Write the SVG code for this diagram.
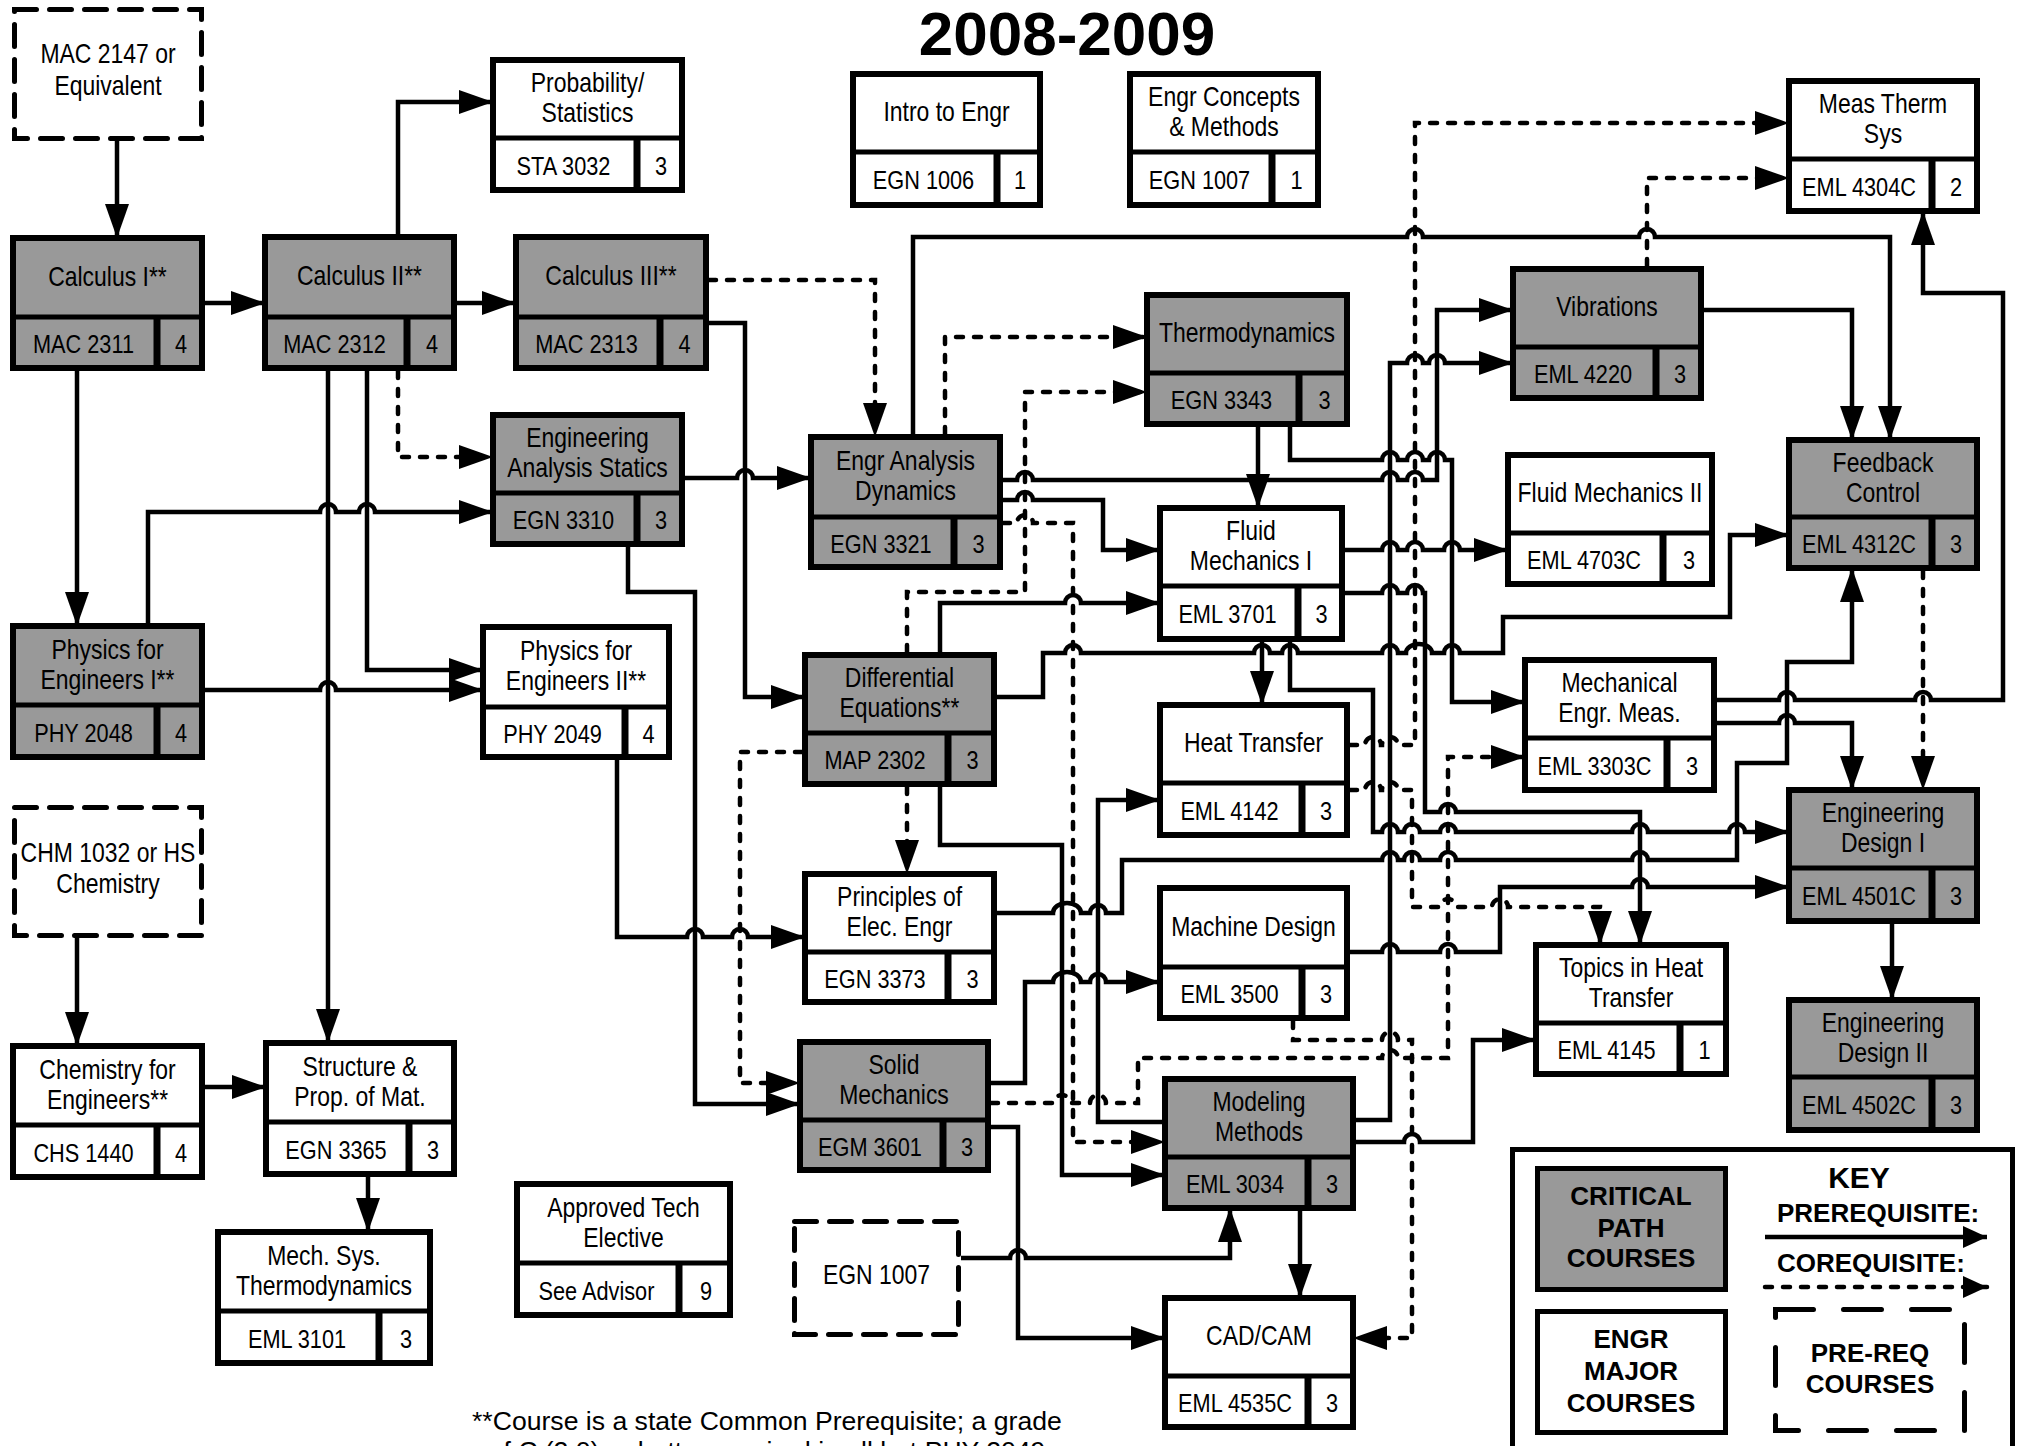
<svg xmlns="http://www.w3.org/2000/svg" width="2017" height="1446" viewBox="0 0 2017 1446">
<style>
.box{stroke:#000;stroke-width:6}
.g{fill:#999}
.w{fill:#fff}
.dv{stroke:#000;stroke-width:5}
.vd{stroke:#000;stroke-width:7}
.pre{fill:#fff;stroke:#000;stroke-width:5;stroke-dasharray:22 13;stroke-linecap:round}
text{font-family:"Liberation Sans",Arial,sans-serif;text-anchor:middle;fill:#000}
.t,.c{transform:scaleX(0.82);transform-box:fill-box;transform-origin:center}
.t{font-size:28px}
.c{font-size:26.5px}
.k{font-family:"Liberation Sans",Arial,sans-serif;font-weight:bold;font-size:26px}
.cn path{fill:none;stroke:#000;stroke-width:4.5}
.cn path.d{stroke-dasharray:7 11;stroke-linecap:round}
.cn path{marker-end:url(#ah)}
</style>
<defs>
<marker id="ah" viewBox="0 0 34 24" refX="31" refY="12" markerWidth="34" markerHeight="24" markerUnits="userSpaceOnUse" orient="auto"><path d="M0 0L34 12L0 24Z" fill="#000"/></marker>
<marker id="ahs" viewBox="0 0 24 22" refX="24" refY="11" markerWidth="24" markerHeight="22" markerUnits="userSpaceOnUse" orient="auto"><path d="M0 0L24 11L0 22Z" fill="#000"/></marker>
</defs>
<rect x="0" y="0" width="2017" height="1446" fill="#fff"/>
<text x="1067" y="55" style="font-family:'Liberation Sans',Arial,sans-serif;font-weight:bold;font-size:62px">2008-2009</text>

<g id="connectors" class="cn">
<path d="M117 141V235"/>
<path d="M205 303H262"/>
<path d="M457 303H513"/>
<path d="M398 234V102H490"/>
<path d="M77 371V623"/>
<path d="M328 371V1040"/>
<path d="M367 371V670H480"/>
<path class="d" d="M398 371V457H490"/>
<path d="M148 623V512H320a8 8 0 0 1 16 0H359a8 8 0 0 1 16 0H490"/>
<path d="M205 690H320a8 8 0 0 1 16 0H480"/>
<path d="M77 938V1043"/>
<path d="M205 1087H263"/>
<path d="M368 1177V1229"/>
<path class="d" d="M709 280H875V434"/>
<path d="M709 323H745V697H802"/>
<path d="M685 478H737a8 8 0 0 1 16 0H808"/>
<path d="M628 547V592H695V1104H797"/>
<path d="M617 760V937H687a8 8 0 0 1 16 0H732a8 8 0 0 1 16 0H802"/>
<path class="d" d="M802 752H740V1083H797"/>
<path class="d" d="M907 787V871"/>
<path class="d" d="M907 652V592H1025V392H1144"/>
<path class="d" d="M1003 523H1017a8 8 0 0 1 16 0H1073V1142H1162"/>
<path d="M940 652V603H1065a8 8 0 0 1 16 0H1157"/>
<path d="M997 697H1043V653H1065a8 8 0 0 1 16 0H1254a8 8 0 0 1 16 0H1282a8 8 0 0 1 16 0H1382a8 8 0 0 1 16 0H1406a13 9 0 0 1 26 0H1444a8 8 0 0 1 16 0H1503V617H1730V535H1786"/>
<path d="M1003 500H1017a8 8 0 0 1 16 0H1103V550H1157"/>
<path d="M1003 480H1017a8 8 0 0 1 16 0H1382a8 8 0 0 1 16 0H1407a8 8 0 0 1 16 0H1437V310H1510"/>
<path d="M1258 427V505"/>
<path d="M1290 427V460H1382a8 8 0 0 1 16 0H1407a8 8 0 0 1 16 0H1429a8 8 0 0 1 16 0H1452V702H1522"/>
<path d="M913 434V237H1407a8 8 0 0 1 16 0H1639a8 8 0 0 1 16 0H1890V437"/>
<path class="d" d="M945 434V337H1144"/>
<path d="M1704 310H1852V437"/>
<path class="d" d="M1647 266V178H1786"/>
<path class="d" d="M1350 745H1365a8 8 0 0 1 16 0H1382a8 8 0 0 1 16 0H1415V123H1786"/>
<path d="M1717 700H1779a8 8 0 0 1 16 0H1915a8 8 0 0 1 16 0H2003V293H1923V214"/>
<path d="M1717 723H1779a8 8 0 0 1 16 0H1852V787"/>
<path class="d" d="M1923 571V787"/>
<path d="M1892 924V997"/>
<path d="M1345 550H1382a8 8 0 0 1 16 0H1407a8 8 0 0 1 16 0H1444a8 8 0 0 1 16 0H1505"/>
<path d="M1345 593H1382a8 8 0 0 1 16 0H1407a8 8 0 0 1 16 0H1425V812H1440a8 8 0 0 1 16 0H1640V942"/>
<path d="M1262 642V702"/>
<path d="M1290 642V690H1373V832H1382a8 8 0 0 1 16 0H1404a8 8 0 0 1 16 0H1440a8 8 0 0 1 16 0H1632a8 8 0 0 1 16 0H1729a8 8 0 0 1 16 0H1786"/>
<path d="M1162 1122H1098V800H1157"/>
<path d="M1356 1120H1390V363H1407a8 8 0 0 1 16 0H1429a8 8 0 0 1 16 0H1510"/>
<path d="M1356 1142H1404a8 8 0 0 1 16 0H1473V1040H1533"/>
<path d="M1300 1211V1295"/>
<path d="M991 1127H1018V1338H1162"/>
<path d="M961 1258H1010a8 8 0 0 1 16 0H1230V1211"/>
<path d="M991 1083H1025V982H1053a14 10 0 0 1 28 0H1090a8 8 0 0 1 16 0H1157"/>
<path class="d" d="M991 1103H1054a8 8 0 0 1 16 0H1090a8 8 0 0 1 16 0H1138V1058H1382a8 8 0 0 1 16 0H1448V757H1522"/>
<path d="M997 913H1053a14 10 0 0 1 28 0H1090a8 8 0 0 1 16 0H1122V860H1382a8 8 0 0 1 16 0H1404a8 8 0 0 1 16 0H1440a8 8 0 0 1 16 0H1632a8 8 0 0 1 16 0H1737V763H1787V662H1852V571"/>
<path class="d" d="M1293 1021V1040H1382a8 8 0 0 1 16 0H1412V1338H1356"/>
<path class="d" d="M1350 790H1365a8 8 0 0 1 16 0H1382a8 8 0 0 1 16 0H1412V907H1440a8 8 0 0 1 16 0H1492a8 8 0 0 1 16 0H1600V942"/>
<path d="M1350 952H1382a8 8 0 0 1 16 0H1440a8 8 0 0 1 16 0H1500V887H1632a8 8 0 0 1 16 0H1786"/>
<path d="M940 787V845H1062V1175H1162"/>
</g>

<g id="mac2147"><rect class="pre" x="14.5" y="9.5" width="187" height="129"/><text class="t" x="108" y="63">MAC 2147 or</text><text class="t" x="108" y="95">Equivalent</text></g>
<g id="calc1"><rect class="box g" x="13" y="238" width="189" height="130"/><line class="dv" x1="10" y1="317" x2="205" y2="317"/><line class="vd" x1="157" y1="317" x2="157" y2="371"/><text class="t" x="107.5" y="286">Calculus I**</text><text class="c" x="83.5" y="353.5">MAC 2311</text><text class="c" x="181" y="353.5">4</text></g>
<g id="calc2"><rect class="box g" x="265" y="237" width="189" height="131"/><line class="dv" x1="262" y1="317" x2="457" y2="317"/><line class="vd" x1="407" y1="317" x2="407" y2="371"/><text class="t" x="359.5" y="285.5">Calculus II**</text><text class="c" x="334.5" y="353.5">MAC 2312</text><text class="c" x="432" y="353.5">4</text></g>
<g id="calc3"><rect class="box g" x="516" y="237" width="190" height="131"/><line class="dv" x1="513" y1="317" x2="709" y2="317"/><line class="vd" x1="660" y1="317" x2="660" y2="371"/><text class="t" x="611" y="285.5">Calculus III**</text><text class="c" x="586.5" y="353.5">MAC 2313</text><text class="c" x="684.5" y="353.5">4</text></g>
<g id="prob"><rect class="box w" x="493" y="60" width="189" height="130"/><line class="dv" x1="490" y1="138" x2="685" y2="138"/><line class="vd" x1="637" y1="138" x2="637" y2="193"/><text class="t" x="587.5" y="92.5">Probability/</text><text class="t" x="587.5" y="122.5">Statistics</text><text class="c" x="563.5" y="175">STA 3032</text><text class="c" x="661" y="175">3</text></g>
<g id="intro"><rect class="box w" x="853" y="74" width="187" height="131"/><line class="dv" x1="850" y1="152" x2="1043" y2="152"/><line class="vd" x1="997" y1="152" x2="997" y2="208"/><text class="t" x="946.5" y="121.5">Intro to Engr</text><text class="c" x="923.5" y="189.5">EGN 1006</text><text class="c" x="1020" y="189.5">1</text></g>
<g id="concepts"><rect class="box w" x="1130" y="74" width="188" height="131"/><line class="dv" x1="1127" y1="152" x2="1321" y2="152"/><line class="vd" x1="1272" y1="152" x2="1272" y2="208"/><text class="t" x="1224" y="106.5">Engr Concepts</text><text class="t" x="1224" y="136.5">&amp; Methods</text><text class="c" x="1199.5" y="189.5">EGN 1007</text><text class="c" x="1296.5" y="189.5">1</text></g>
<g id="meas"><rect class="box w" x="1789" y="81" width="188" height="130"/><line class="dv" x1="1786" y1="159" x2="1980" y2="159"/><line class="vd" x1="1932" y1="159" x2="1932" y2="214"/><text class="t" x="1883" y="113.5">Meas Therm</text><text class="t" x="1883" y="143.5">Sys</text><text class="c" x="1859" y="196">EML 4304C</text><text class="c" x="1956" y="196">2</text></g>
<g id="vib"><rect class="box g" x="1513" y="269" width="188" height="129"/><line class="dv" x1="1510" y1="347" x2="1704" y2="347"/><line class="vd" x1="1656" y1="347" x2="1656" y2="401"/><text class="t" x="1607" y="316.5">Vibrations</text><text class="c" x="1583" y="383.5">EML 4220</text><text class="c" x="1680" y="383.5">3</text></g>
<g id="feedback"><rect class="box g" x="1789" y="440" width="188" height="128"/><line class="dv" x1="1786" y1="517" x2="1980" y2="517"/><line class="vd" x1="1932" y1="517" x2="1932" y2="571"/><text class="t" x="1883" y="472">Feedback</text><text class="t" x="1883" y="502">Control</text><text class="c" x="1859" y="553.5">EML 4312C</text><text class="c" x="1956" y="553.5">3</text></g>
<g id="fm2"><rect class="box w" x="1508" y="455" width="204" height="129"/><line class="dv" x1="1505" y1="533" x2="1715" y2="533"/><line class="vd" x1="1663" y1="533" x2="1663" y2="587"/><text class="t" x="1610" y="502.5">Fluid Mechanics II</text><text class="c" x="1584" y="569.5">EML 4703C</text><text class="c" x="1689" y="569.5">3</text></g>
<g id="thermo"><rect class="box g" x="1147" y="295" width="200" height="129"/><line class="dv" x1="1144" y1="373" x2="1350" y2="373"/><line class="vd" x1="1299" y1="373" x2="1299" y2="427"/><text class="t" x="1247" y="342.5">Thermodynamics</text><text class="c" x="1221.5" y="409.5">EGN 3343</text><text class="c" x="1324.5" y="409.5">3</text></g>
<g id="statics"><rect class="box g" x="493" y="415" width="189" height="129"/><line class="dv" x1="490" y1="493" x2="685" y2="493"/><line class="vd" x1="637" y1="493" x2="637" y2="547"/><text class="t" x="587.5" y="447.5">Engineering</text><text class="t" x="587.5" y="477.5">Analysis Statics</text><text class="c" x="563.5" y="529.5">EGN 3310</text><text class="c" x="661" y="529.5">3</text></g>
<g id="dynamics"><rect class="box g" x="811" y="437" width="189" height="130"/><line class="dv" x1="808" y1="517" x2="1003" y2="517"/><line class="vd" x1="954" y1="517" x2="954" y2="570"/><text class="t" x="905.5" y="470.5">Engr Analysis</text><text class="t" x="905.5" y="500.5">Dynamics</text><text class="c" x="881" y="553">EGN 3321</text><text class="c" x="978.5" y="553">3</text></g>
<g id="fm1"><rect class="box w" x="1160" y="508" width="182" height="131"/><line class="dv" x1="1157" y1="586" x2="1345" y2="586"/><line class="vd" x1="1298" y1="586" x2="1298" y2="642"/><text class="t" x="1251" y="540.5">Fluid</text><text class="t" x="1251" y="570.5">Mechanics I</text><text class="c" x="1227.5" y="623.5">EML 3701</text><text class="c" x="1321.5" y="623.5">3</text></g>
<g id="ht"><rect class="box w" x="1160" y="705" width="187" height="130"/><line class="dv" x1="1157" y1="783" x2="1350" y2="783"/><line class="vd" x1="1302" y1="783" x2="1302" y2="838"/><text class="t" x="1253.5" y="752.5">Heat Transfer</text><text class="c" x="1229.5" y="820">EML 4142</text><text class="c" x="1326" y="820">3</text></g>
<g id="md"><rect class="box w" x="1160" y="888" width="187" height="130"/><line class="dv" x1="1157" y1="967" x2="1350" y2="967"/><line class="vd" x1="1302" y1="967" x2="1302" y2="1021"/><text class="t" x="1253.5" y="936">Machine Design</text><text class="c" x="1229.5" y="1003.5">EML 3500</text><text class="c" x="1326" y="1003.5">3</text></g>
<g id="mem"><rect class="box w" x="1525" y="660" width="189" height="130"/><line class="dv" x1="1522" y1="738" x2="1717" y2="738"/><line class="vd" x1="1667" y1="738" x2="1667" y2="793"/><text class="t" x="1619.5" y="692.5">Mechanical</text><text class="t" x="1619.5" y="722.5">Engr. Meas.</text><text class="c" x="1594.5" y="775">EML 3303C</text><text class="c" x="1692" y="775">3</text></g>
<g id="ed1"><rect class="box g" x="1789" y="790" width="188" height="131"/><line class="dv" x1="1786" y1="868" x2="1980" y2="868"/><line class="vd" x1="1932" y1="868" x2="1932" y2="924"/><text class="t" x="1883" y="822.5">Engineering</text><text class="t" x="1883" y="852.5">Design I</text><text class="c" x="1859" y="905.5">EML 4501C</text><text class="c" x="1956" y="905.5">3</text></g>
<g id="topics"><rect class="box w" x="1536" y="945" width="190" height="129"/><line class="dv" x1="1533" y1="1023" x2="1729" y2="1023"/><line class="vd" x1="1680" y1="1023" x2="1680" y2="1077"/><text class="t" x="1631" y="977.5">Topics in Heat</text><text class="t" x="1631" y="1007.5">Transfer</text><text class="c" x="1606.5" y="1059.5">EML 4145</text><text class="c" x="1704.5" y="1059.5">1</text></g>
<g id="ed2"><rect class="box g" x="1789" y="1000" width="188" height="130"/><line class="dv" x1="1786" y1="1077" x2="1980" y2="1077"/><line class="vd" x1="1932" y1="1077" x2="1932" y2="1133"/><text class="t" x="1883" y="1032">Engineering</text><text class="t" x="1883" y="1062">Design II</text><text class="c" x="1859" y="1114.5">EML 4502C</text><text class="c" x="1956" y="1114.5">3</text></g>
<g id="phys1"><rect class="box g" x="13" y="626" width="189" height="131"/><line class="dv" x1="10" y1="705" x2="205" y2="705"/><line class="vd" x1="157" y1="705" x2="157" y2="760"/><text class="t" x="107.5" y="659">Physics for</text><text class="t" x="107.5" y="689">Engineers I**</text><text class="c" x="83.5" y="742">PHY 2048</text><text class="c" x="181" y="742">4</text></g>
<g id="phys2"><rect class="box w" x="483" y="627" width="186" height="130"/><line class="dv" x1="480" y1="707" x2="672" y2="707"/><line class="vd" x1="625" y1="707" x2="625" y2="760"/><text class="t" x="576" y="660.5">Physics for</text><text class="t" x="576" y="690.5">Engineers II**</text><text class="c" x="552.5" y="743">PHY 2049</text><text class="c" x="648.5" y="743">4</text></g>
<g id="chm"><rect class="pre" x="14.5" y="807.5" width="187" height="128"/><text class="t" x="108" y="862">CHM 1032 or HS</text><text class="t" x="108" y="893">Chemistry</text></g>
<g id="chem"><rect class="box w" x="13" y="1046" width="189" height="131"/><line class="dv" x1="10" y1="1125" x2="205" y2="1125"/><line class="vd" x1="157" y1="1125" x2="157" y2="1180"/><text class="t" x="107.5" y="1079">Chemistry for</text><text class="t" x="107.5" y="1109">Engineers**</text><text class="c" x="83.5" y="1162">CHS 1440</text><text class="c" x="181" y="1162">4</text></g>
<g id="struct"><rect class="box w" x="266" y="1043" width="188" height="131"/><line class="dv" x1="263" y1="1122" x2="457" y2="1122"/><line class="vd" x1="409" y1="1122" x2="409" y2="1177"/><text class="t" x="360" y="1076">Structure &amp;</text><text class="t" x="360" y="1106">Prop. of Mat.</text><text class="c" x="336" y="1159">EGN 3365</text><text class="c" x="433" y="1159">3</text></g>
<g id="mst"><rect class="box w" x="218" y="1232" width="212" height="131"/><line class="dv" x1="215" y1="1311" x2="433" y2="1311"/><line class="vd" x1="379" y1="1311" x2="379" y2="1366"/><text class="t" x="324" y="1265">Mech. Sys.</text><text class="t" x="324" y="1295">Thermodynamics</text><text class="c" x="297" y="1348">EML 3101</text><text class="c" x="406" y="1348">3</text></g>
<g id="diffeq"><rect class="box g" x="805" y="655" width="189" height="129"/><line class="dv" x1="802" y1="733" x2="997" y2="733"/><line class="vd" x1="948" y1="733" x2="948" y2="787"/><text class="t" x="899.5" y="687.5">Differential</text><text class="t" x="899.5" y="717.5">Equations**</text><text class="c" x="875" y="769.5">MAP 2302</text><text class="c" x="972.5" y="769.5">3</text></g>
<g id="pee"><rect class="box w" x="805" y="874" width="189" height="128"/><line class="dv" x1="802" y1="952" x2="997" y2="952"/><line class="vd" x1="948" y1="952" x2="948" y2="1005"/><text class="t" x="899.5" y="906.5">Principles of</text><text class="t" x="899.5" y="936.5">Elec. Engr</text><text class="c" x="875" y="988">EGN 3373</text><text class="c" x="972.5" y="988">3</text></g>
<g id="solid"><rect class="box g" x="800" y="1042" width="188" height="128"/><line class="dv" x1="797" y1="1120" x2="991" y2="1120"/><line class="vd" x1="943" y1="1120" x2="943" y2="1173"/><text class="t" x="894" y="1074.5">Solid</text><text class="t" x="894" y="1104.5">Mechanics</text><text class="c" x="870" y="1156">EGM 3601</text><text class="c" x="967" y="1156">3</text></g>
<g id="ate"><rect class="box w" x="517" y="1184" width="213" height="131"/><line class="dv" x1="514" y1="1263" x2="733" y2="1263"/><line class="vd" x1="679" y1="1263" x2="679" y2="1318"/><text class="t" x="623.5" y="1217">Approved Tech</text><text class="t" x="623.5" y="1247">Elective</text><text class="c" x="596.5" y="1300">See Advisor</text><text class="c" x="706" y="1300">9</text></g>
<g id="egn1007"><rect class="pre" x="794.5" y="1221.5" width="164" height="113"/><text class="t" x="876.5" y="1284">EGN 1007</text></g>
<g id="mm"><rect class="box g" x="1165" y="1079" width="188" height="129"/><line class="dv" x1="1162" y1="1157" x2="1356" y2="1157"/><line class="vd" x1="1308" y1="1157" x2="1308" y2="1211"/><text class="t" x="1259" y="1111.5">Modeling</text><text class="t" x="1259" y="1141.5">Methods</text><text class="c" x="1235" y="1193.5">EML 3034</text><text class="c" x="1332" y="1193.5">3</text></g>
<g id="cad"><rect class="box w" x="1165" y="1298" width="188" height="129"/><line class="dv" x1="1162" y1="1376" x2="1356" y2="1376"/><line class="vd" x1="1308" y1="1376" x2="1308" y2="1430"/><text class="t" x="1259" y="1345.5">CAD/CAM</text><text class="c" x="1235" y="1412.5">EML 4535C</text><text class="c" x="1332" y="1412.5">3</text></g>

<g id="key">
<rect x="1512.5" y="1149.5" width="500" height="310" fill="#fff" stroke="#000" stroke-width="5"/>
<rect x="1537.5" y="1168.5" width="188" height="121" fill="#999" stroke="#000" stroke-width="5"/>
<text class="k" x="1631" y="1205">CRITICAL</text><text class="k" x="1631" y="1237">PATH</text><text class="k" x="1631" y="1267">COURSES</text>
<rect x="1537.5" y="1311.5" width="188" height="121" fill="#fff" stroke="#000" stroke-width="5"/>
<text class="k" x="1631" y="1348">ENGR</text><text class="k" x="1631" y="1380">MAJOR</text><text class="k" x="1631" y="1412">COURSES</text>
<rect x="1775.5" y="1309.5" width="189" height="121" fill="none" stroke="#000" stroke-width="5" stroke-dasharray="38 30" stroke-linecap="round"/>
<text class="k" x="1870" y="1362">PRE-REQ</text><text class="k" x="1870" y="1393">COURSES</text>
<text class="k" x="1859" y="1188" style="font-size:30px">KEY</text>
<text class="k" x="1777" y="1222" style="text-anchor:start">PREREQUISITE:</text>
<path d="M1765 1237H1987" stroke="#000" stroke-width="4.5" marker-end="url(#ahs)"/>
<text class="k" x="1777" y="1272" style="text-anchor:start">COREQUISITE:</text>
<path d="M1765 1287H1987" stroke="#000" stroke-width="4.5" stroke-dasharray="7 11" stroke-linecap="round" marker-end="url(#ahs)"/>
</g>

<g id="footnote">
<text x="472" y="1430" style="font-family:'Liberation Sans',Arial,sans-serif;font-size:26.6px;text-anchor:start">**Course is a state Common Prerequisite; a grade</text>
<text x="767" y="1460" style="font-family:'Liberation Sans',Arial,sans-serif;font-size:26.6px">of C (2.0) or better required in all but PHY 2049</text>
</g>
</svg>
